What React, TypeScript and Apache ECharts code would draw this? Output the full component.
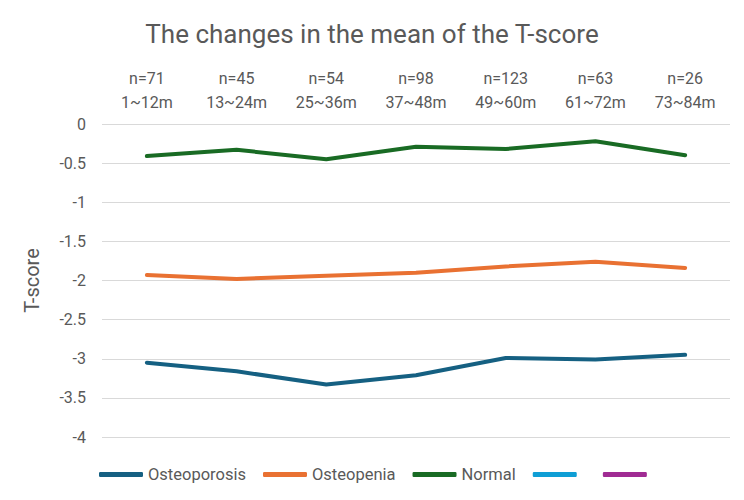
import React, { useEffect, useRef } from "react";
import * as echarts from "echarts";

const categories = ["n=71\n1~12m", "n=45\n13~24m", "n=54\n25~36m", "n=98\n37~48m", "n=123\n49~60m", "n=63\n61~72m", "n=26\n73~84m"];
const osteoporosis = [-3.05, -3.16, -3.33, -3.21, -2.99, -3.01, -2.95];
const osteopenia = [-1.93, -1.98, -1.94, -1.90, -1.82, -1.76, -1.84];
const normal = [-0.41, -0.33, -0.45, -0.29, -0.32, -0.22, -0.40];
const seriesNames = ["Osteoporosis", "Osteopenia", "Normal", " ", "  "];
const colors = ["#156082", "#E97132", "#196B24", "#0F9ED5", "#A02B93"];

const FONT = "Roboto, 'Noto Sans', sans-serif";
const TXT = "#595959";

export default function App() {
  const ref = useRef<HTMLDivElement>(null);
  useEffect(() => {
    if (!ref.current) return;
    const chart = echarts.init(ref.current, null, { renderer: "svg" });
    const dataSets = [osteoporosis, osteopenia, normal, [], []];
    chart.setOption({
      animation: false,
      color: colors,
      textStyle: { fontFamily: FONT },
      title: {
        text: "The changes in the mean of the T-score",
        left: "center",
        top: 16,
        textStyle: { fontFamily: FONT, fontSize: 26, fontWeight: "normal", color: TXT },
      },
      legend: {
        data: seriesNames,
        left: 94,
        top: 461,
        icon: "roundRect",
        itemWidth: 44,
        itemHeight: 5,
        itemGap: 17,
        textStyle: { fontFamily: FONT, fontSize: 16.5, color: TXT },
      },
      grid: { left: 102, right: 14, top: 124, bottom: 500 - 437, containLabel: false },
      xAxis: {
        type: "category",
        position: "top",
        data: categories,
        boundaryGap: true,
        axisLine: { show: false },
        axisTick: { show: false },
        axisLabel: { fontFamily: FONT, fontSize: 16, color: TXT, lineHeight: 24, margin: 10, interval: 0 },
      },
      yAxis: {
        type: "value",
        min: -4,
        max: 0,
        interval: 0.5,
        name: "T-score",
        nameLocation: "middle",
        nameRotate: 90,
        nameGap: 60,
        nameTextStyle: { fontFamily: FONT, fontSize: 20, color: TXT },
        axisLine: { show: false },
        axisTick: { show: false },
        axisLabel: { fontFamily: FONT, fontSize: 16, color: TXT, margin: 16 },
        splitLine: { lineStyle: { color: "#d9d9d9", width: 1 } },
      },
      series: seriesNames.map((name, i) => ({
        name,
        type: "line",
        data: dataSets[i],
        showSymbol: false,
        symbol: "none",
        lineStyle: { width: 4, color: colors[i], cap: "round", join: "round" },
        itemStyle: { color: colors[i] },
      })),
    });
    return () => chart.dispose();
  }, []);
  return <div ref={ref} style={{ width: 744, height: 500, position: "absolute", left: 0, top: 0 }} />;
}
